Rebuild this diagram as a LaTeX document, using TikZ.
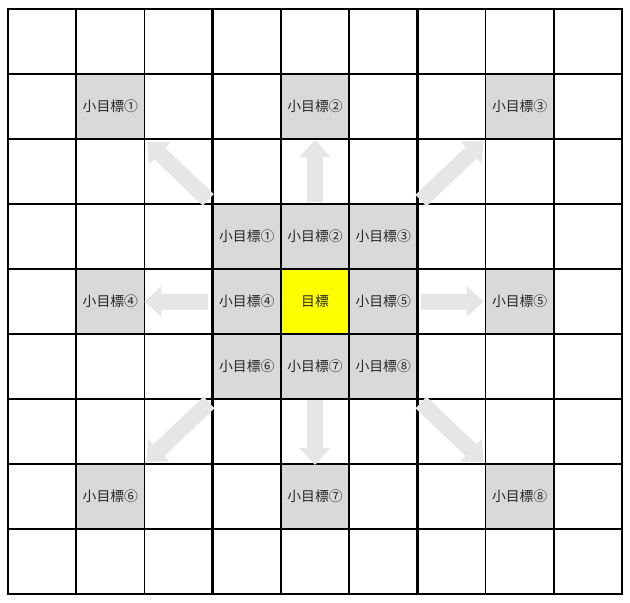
\documentclass[tikz,border=0pt]{standalone}
\usepackage{fontspec}
\setmainfont{Noto Sans CJK JP}
\usetikzlibrary{arrows.meta}
\definecolor{cellgray}{HTML}{D9D9D9}
\definecolor{arrowgray}{HTML}{E6E6E6}
\definecolor{goalyellow}{HTML}{FFFF00}
\definecolor{txt}{HTML}{262626}
\tikzset{
  cell/.style={draw=black, line width=1.6pt, minimum width=68.222pt, minimum height=65pt,
    inner sep=0pt, outer sep=0pt, font=\fontsize{13.8}{15}\selectfont, text=txt},
  subcell/.style={cell, fill=cellgray},
  goalcell/.style={cell, fill=goalyellow},
  bigarrow/.style={draw=arrowgray, line width=16pt,
    -{Triangle[length=17pt,width=31pt,line width=0pt]}},
  blockline/.style={draw=black, line width=2.4pt}
}
\begin{document}
\begin{tikzpicture}[x=1pt,y=-1pt]
\useasboundingbox (0,0) rectangle (630,603);
% empty grid cells
\foreach \r in {0,...,8}{
  \foreach \c in {0,...,8}{
    \node[cell] (c-\r-\c) at ({8+68.222*(\c+0.5)},{9+65*(\r+0.5)}) {};
  }
}
% outer sub-goal cells
\node[subcell] (o1) at (c-1-1) {小目標①};
\node[subcell] (o2) at (c-1-4) {小目標②};
\node[subcell] (o3) at (c-1-7) {小目標③};
\node[subcell] (o4) at (c-4-1) {小目標④};
\node[subcell] (o5) at (c-4-7) {小目標⑤};
\node[subcell] (o6) at (c-7-1) {小目標⑥};
\node[subcell] (o7) at (c-7-4) {小目標⑦};
\node[subcell] (o8) at (c-7-7) {小目標⑧};
% central block
\node[subcell] (i1) at (c-3-3) {小目標①};
\node[subcell] (i2) at (c-3-4) {小目標②};
\node[subcell] (i3) at (c-3-5) {小目標③};
\node[subcell] (i4) at (c-4-3) {小目標④};
\node[goalcell] (g) at (c-4-4) {目標};
\node[subcell] (i5) at (c-4-5) {小目標⑤};
\node[subcell] (i6) at (c-5-3) {小目標⑥};
\node[subcell] (i7) at (c-5-4) {小目標⑦};
\node[subcell] (i8) at (c-5-5) {小目標⑧};
% block boundaries
\draw[blockline] (c-0-0.north west) rectangle (c-8-8.south east);
\draw[blockline] (c-0-3.north west) -- (c-8-3.south west);
\draw[blockline] (c-0-6.north west) -- (c-8-6.south west);
\draw[blockline] (c-3-0.north west) -- (c-3-8.north east);
\draw[blockline] (c-6-0.north west) -- (c-6-8.north east);
% arrows
\draw[bigarrow, shorten <=2pt, shorten >=1pt] (i2.north) -- (o2.south);
\draw[bigarrow, shorten <=1pt, shorten >=-1pt] (i7.south) -- (o7.north);
\draw[bigarrow, shorten <=5pt, shorten >=0pt] (i4.west) -- (o4.east);
\draw[bigarrow, shorten <=4pt, shorten >=2pt] (i5.east) -- (o5.west);
\draw[bigarrow, shorten <=6pt, shorten >=4pt] (i1.north west) -- (o1.south east);
\draw[bigarrow, shorten <=5pt, shorten >=3pt] (i3.north east) -- (o3.south west);
\draw[bigarrow, shorten <=5pt, shorten >=3pt] (i6.south west) -- (o6.north east);
\draw[bigarrow, shorten <=5pt, shorten >=3pt] (i8.south east) -- (o8.north west);
\end{tikzpicture}
\end{document}
